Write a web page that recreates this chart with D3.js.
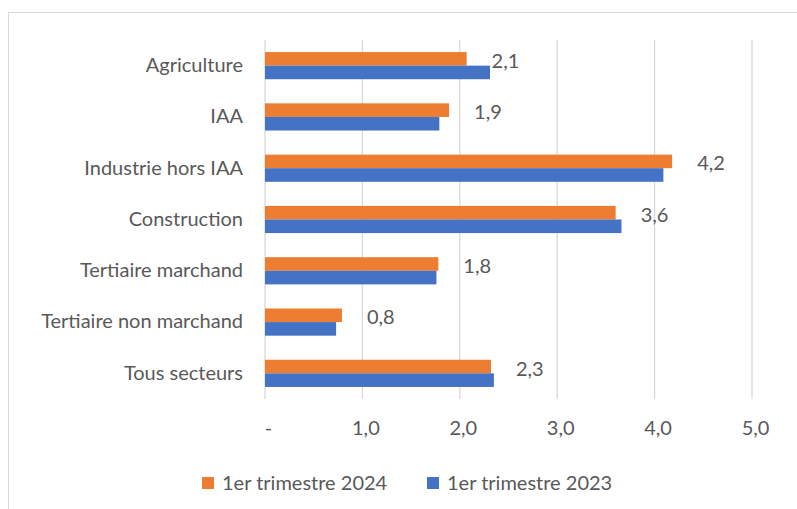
<!DOCTYPE html>
<html>
<head>
<meta charset="utf-8">
<script src="https://cdn.jsdelivr.net/npm/d3@7"></script>
<style>
  body { margin: 0; background: #fff; }
  svg text { font-family: Lato, "Open Sans", sans-serif; fill: #595959; }
</style>
</head>
<body>
<div class="bar-chart"></div>
<script>
(function() {
var W = 797, H = 509;
var svg = d3.select(".bar-chart").append("svg")
    .attr("width", W).attr("height", H);

const categories = ["Agriculture", "IAA", "Industrie hors IAA", "Construction",
  "Tertiaire marchand", "Tertiaire non marchand", "Tous secteurs"];
const series = ["1er trimestre 2024", "1er trimestre 2023"];
const values2024 = [2.07, 1.89, 4.18, 3.60, 1.78, 0.79, 2.32];
const values2023 = [2.31, 1.79, 4.09, 3.66, 1.76, 0.73, 2.35];
const labels2024 = ["2,1", "1,9", "4,2", "3,6", "1,8", "0,8", "2,3"];
const xTicks = [0, 1, 2, 3, 4, 5];

const color = d3.scaleOrdinal(series, ["#ED7D31", "#4472C4"]);

const plot = {left: 265, right: 752, top: 40, bottom: 399};
const fs = 20;
const font = "Lato, 'Open Sans', sans-serif";

// frame
svg.append("rect")
    .attr("x", 8.5).attr("y", 12.5)
    .attr("width", W + 10).attr("height", H + 10)
    .attr("fill", "#fff").attr("stroke", "#d9d9d9");

var x = d3.scaleLinear().domain([0, 5]).range([plot.left, plot.right]);
var y = d3.scaleBand().domain(categories).range([plot.top, plot.bottom])
    .paddingInner(0.47).paddingOuter(0.235);
var y1 = d3.scaleBand().domain(series).range([0, y.bandwidth()]);

// gridlines
svg.append("g").selectAll("line")
    .data(xTicks)
    .enter().append("line")
    .attr("x1", (d) => x(d)).attr("x2", (d) => x(d))
    .attr("y1", plot.top).attr("y2", plot.bottom)
    .attr("stroke", "#d9d9d9").attr("stroke-width", 1.3);

// x axis labels
const xAxis = d3.axisBottom(x).tickValues(xTicks).tickSize(0).tickPadding(0)
    .tickFormat((d) => d === 0 ? "-" : d3.format(".1f")(d).replace(".", ","));
var gx = svg.append("g")
    .attr("transform", "translate(3," + (plot.bottom + 22) + ")")
    .call(xAxis);
gx.select(".domain").remove();
gx.selectAll("text").style("font-size", fs + "px")
    .style("font-family", font).attr("fill", "#595959");

// y axis labels
const yAxis = d3.axisLeft(y).tickSize(0).tickPadding(22);
var gy = svg.append("g")
    .attr("transform", "translate(" + plot.left + ",0)")
    .call(yAxis);
gy.select(".domain").remove();
gy.selectAll("text").style("font-size", fs + "px")
    .style("font-family", font).attr("fill", "#595959");

const rows = categories.map((c, i) => ({cat: c, v2024: values2024[i], v2023: values2023[i], label: labels2024[i]}));

var groups = svg.append("g").selectAll("g")
    .data(rows)
    .enter().append("g")
    .attr("transform", (d) => "translate(0," + y(d.cat) + ")");

groups.selectAll("rect")
    .data((d) => [{s: series[0], v: d.v2024}, {s: series[1], v: d.v2023}])
    .enter().append("rect")
    .attr("x", x(0))
    .attr("y", (d) => y1(d.s))
    .attr("height", y1.bandwidth())
    .attr("width", (d) => x(d.v) - x(0))
    .style("fill", (d) => color(d.s));

groups.append("text")
    .attr("x", (d) => x(d.v2024) + 25)
    .attr("y", y1(series[0]) + y1.bandwidth() / 2 + 2)
    .attr("dy", "0.35em")
    .style("font-size", fs + "px")
    .text((d) => d.label);

// legend
var legend = svg.append("g").selectAll("g")
    .data(series)
    .enter().append("g")
    .attr("transform", (d, i) => "translate(" + (202 + i * 225) + ",483)");
legend.append("rect")
    .attr("x", 0).attr("y", -6).attr("width", 12).attr("height", 12)
    .style("fill", (d) => color(d));
legend.append("text")
    .attr("x", 20).attr("dy", "0.35em")
    .style("font-size", fs + "px")
    .text((d) => d);
}())
</script>
</body>
</html>
